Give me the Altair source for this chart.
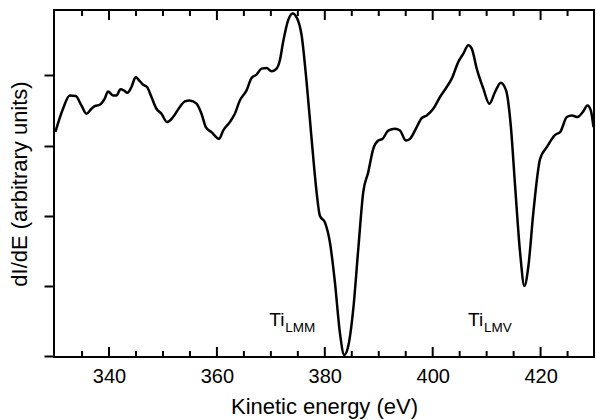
import altair as alt
import pandas as pd

# Spectrum trace (kinetic energy in eV, dI/dE in arbitrary units)
energy = [330.06, 331.47, 332.71, 333.82, 334.88, 335.81, 336.73, 337.35, 338.27, 339.2,
          339.81, 340.74, 341.37, 342.12, 342.73, 343.41, 344.16, 344.95, 345.57, 346.31,
          347.05, 347.87, 348.79, 349.72, 350.76, 351.87, 353.12, 354.04, 354.97, 356.22,
          357.14, 357.94, 359.0, 360.41, 361.15, 362.39, 363.32, 364.25, 365.49, 366.42,
          367.35, 368.27, 369.2, 370.13, 371.06, 371.67, 372.28, 373.21, 374.03, 374.88,
          375.7, 376.62, 377.55, 378.48, 379.09, 380.02, 380.95, 381.88, 382.8, 383.6,
          384.34, 385.27, 386.2, 387.12, 388.05, 388.98, 389.91, 390.72, 391.76, 393.0,
          393.93, 395.05, 395.79, 397.03, 397.96, 398.89, 400.11, 401.35, 402.6, 403.53,
          404.75, 405.68, 406.6, 407.24, 408.16, 409.39, 410.5, 411.56, 412.62, 413.6,
          414.47, 415.27, 416.2, 417.0, 417.74, 418.66, 419.91, 421.15, 422.69, 423.62,
          424.86, 425.79, 426.83, 427.83, 428.68, 429.31, 429.8]
signal = [3.196, 3.524, 3.714, 3.706, 3.571, 3.453, 3.524, 3.563, 3.581, 3.667,
          3.771, 3.714, 3.714, 3.8, 3.786, 3.753, 3.834, 3.977, 3.929, 3.867,
          3.834, 3.691, 3.524, 3.453, 3.334, 3.406, 3.549, 3.629, 3.643, 3.596,
          3.453, 3.263, 3.191, 3.096, 3.214, 3.334, 3.453, 3.643, 3.786, 3.963,
          4.01, 4.096, 4.106, 4.057, 4.096, 4.214, 4.477, 4.786, 4.881, 4.81,
          4.571, 3.906, 3.096, 2.334, 2.0, 1.906, 1.62, 1.049, 0.334, 0.02,
          0.143, 0.667, 1.524, 2.334, 2.62, 2.953, 3.071, 3.096, 3.214, 3.239,
          3.214, 3.071, 3.096, 3.263, 3.391, 3.429, 3.524, 3.691, 3.834, 3.953,
          4.191, 4.31, 4.429, 4.381, 4.096, 3.81, 3.596, 3.763, 3.896, 3.786,
          3.286, 2.429, 1.477, 1.0, 1.286, 2.049, 2.81, 2.977, 3.153, 3.191,
          3.406, 3.429, 3.406, 3.477, 3.571, 3.5, 3.263]

x_major = [340, 360, 380, 400, 420]
x_minor = [335, 345, 350, 355, 365, 370, 375, 385, 390, 395, 405, 410, 415, 425]
y_ticks = [0, 1, 2, 3, 4]

label_main = ["Ti", "Ti"]
label_sub = ["LMM", "LMV"]
label_x = [369.7, 406.55]
label_y = [0.437, 0.437]

W, H = 540, 347
FONT = "Liberation Sans"

xs = alt.Scale(domain=[329.8, 429.9], nice=False, zero=False)
ys = alt.Scale(domain=[-0.01, 4.93], nice=False, zero=False)

df = pd.DataFrame({"e": energy, "s": signal})
line = alt.Chart(df).mark_line(color="black", strokeWidth=2.5, interpolate="monotone").encode(
    x=alt.X("e:Q", scale=xs,
            axis=alt.Axis(values=x_major, ticks=False, domain=False, grid=False,
                          labelFontSize=20, labelFont=FONT, labelColor="black", labelPadding=9,
                          title="Kinetic energy (eV)", titleFontSize=22, titleFont=FONT,
                          titleFontWeight="normal", titleColor="black", titlePadding=10)),
    y=alt.Y("s:Q", scale=ys,
            axis=alt.Axis(values=y_ticks, labels=False, ticks=True, tickSize=10, tickWidth=2,
                          tickColor="black", domain=False, grid=False,
                          title="dI/dE (arbitrary units)", titleFontSize=22, titleFont=FONT,
                          titleFontWeight="normal", titleColor="black", titlePadding=12)),
)

maj = pd.DataFrame({"t": x_major})
mnr = pd.DataFrame({"t": x_minor})

def ticks(data, y1, y2):
    return alt.Chart(data).mark_rule(color="black", strokeWidth=2).encode(
        x=alt.X("t:Q", scale=xs), y=alt.value(y1), y2=alt.value(y2))

bot_major = ticks(maj, H, H - 10)
bot_minor = ticks(mnr, H, H - 6)
top_major = ticks(maj, 0, 10)
top_minor = ticks(mnr, 0, 6)

lab = pd.DataFrame({"m": label_main, "sub": label_sub, "x": label_x, "y": label_y})
t_main = alt.Chart(lab).mark_text(align="left", baseline="alphabetic", fontSize=19,
                                  font=FONT, color="black").encode(
    x=alt.X("x:Q", scale=xs), y=alt.Y("y:Q", scale=ys), text="m:N")
t_sub = alt.Chart(lab).mark_text(align="left", baseline="alphabetic", fontSize=13.5,
                                 font=FONT, color="black", dx=16, dy=6).encode(
    x=alt.X("x:Q", scale=xs), y=alt.Y("y:Q", scale=ys), text="sub:N")

chart = alt.layer(line, bot_major, bot_minor, top_major, top_minor, t_main, t_sub).properties(
    width=W, height=H,
    autosize=alt.AutoSizeParams(type="none"),
    padding={"left": 54, "top": 10, "right": 2, "bottom": 63},
).configure(
    background="white",
    view=alt.ViewConfig(stroke="black", strokeWidth=2),
)

chart.save("out.html", embed_options={"renderer": "svg", "actions": False})
